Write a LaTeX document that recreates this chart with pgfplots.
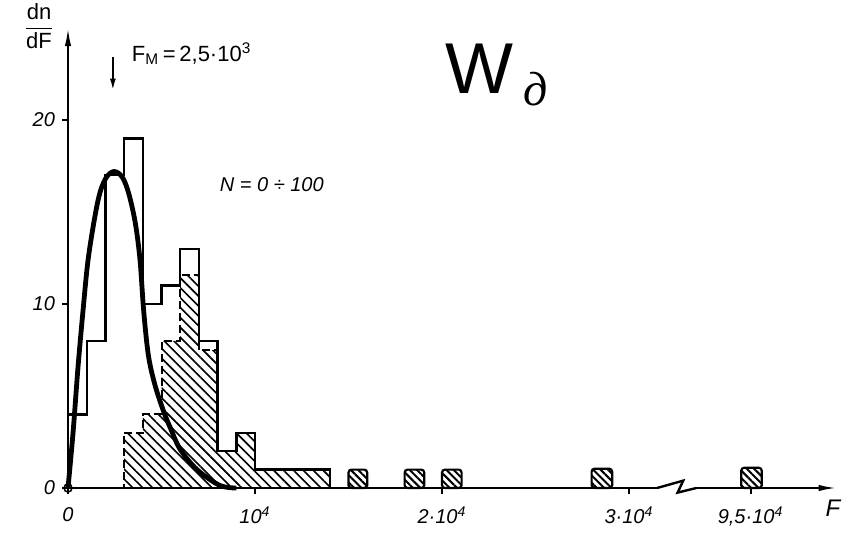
\documentclass[border=0pt]{standalone}
\usepackage{fontspec}
\setmainfont{Liberation Sans}
\newfontfamily\cyrserif{Liberation Serif}
\usepackage{pgfplots}
\pgfplotsset{compat=1.18}
\usetikzlibrary{patterns.meta,arrows.meta}

% outer histogram (all events), hatched sub-histogram, isolated hatched bins
\pgfplotstableread{
x   y
0   4
1   8
2   17
3   19
4   10
5   11
6   13
7   8
8   2
9   3
10  1
14  1
}\alltable

\pgfplotstableread{
x   y
3   3
4   4
5   8
6   11.6
7   7.5
8   2
9   3
10  1
14  1
}\hatchtable

\begin{document}
\begin{tikzpicture}
\useasboundingbox (-34pt,-32.5pt) rectangle (394.5pt,244pt);
\begin{axis}[
  at={(0,0)}, anchor=south west,
  x=9.35pt, y=9.2pt,
  xmin=0, xmax=41.1, ymin=0, ymax=25,
  axis lines=left,
  axis line style={line width=1pt, -{Latex[length=9pt,width=3.2pt]}},
  xtick={0,10,20,30,36.5},
  xticklabels={0, 10\textsuperscript{4}, 2·10\textsuperscript{4}, 3·10\textsuperscript{4}, {9,5·10\textsuperscript{4}}},
  ytick={0,10,20},
  tick style={line width=1pt, black},
  major tick length=3pt,
  tick align=outside,
  /pgf/number format/assume math mode=true,
  tick label style={font=\itshape\fontsize{10}{12}\selectfont},
  xticklabel style={yshift=-3pt},
  clip=false,
]
% hatched part, dashed outline
\addplot[const plot, draw=black, line width=1pt, dash pattern=on 4pt off 2pt,
  pattern={Lines[angle=-45,distance=3.5pt,line width=0.8pt]}]
  table[x=x,y=y] {\hatchtable} \closedcycle;

% isolated bins far out
\addplot[draw=black, line width=1.1pt, rounded corners=1.5pt,
  pattern={Lines[angle=-45,distance=2.6pt,line width=1pt]}]
  coordinates {(15,0) (15,1) (16,1) (16,0)} \closedcycle;
\addplot[draw=black, line width=1.1pt, rounded corners=1.5pt,
  pattern={Lines[angle=-45,distance=2.6pt,line width=1pt]}]
  coordinates {(18,0) (18,1) (19.05,1) (19.05,0)} \closedcycle;
\addplot[draw=black, line width=1.1pt, rounded corners=1.5pt,
  pattern={Lines[angle=-45,distance=2.6pt,line width=1pt]}]
  coordinates {(20,0) (20,1) (21.05,1) (21.05,0)} \closedcycle;
\addplot[draw=black, line width=1.1pt, rounded corners=1.5pt,
  pattern={Lines[angle=-45,distance=2.6pt,line width=1pt]}]
  coordinates {(28,0) (28,1.05) (29.1,1.05) (29.1,0)} \closedcycle;
\addplot[draw=black, line width=1.1pt, rounded corners=1.5pt,
  pattern={Lines[angle=-45,distance=2.6pt,line width=1pt]}]
  coordinates {(36,0) (36,1.1) (37.1,1.1) (37.1,0)} \closedcycle;

% outer histogram, solid
\addplot[const plot, draw=black, line width=1.2pt]
  table[x=x,y=y] {\alltable} -- (axis cs:14,0);

% fitted distribution
\addplot[line width=2.4pt, smooth, tension=0.55] coordinates {
  (0,0) (0.27,3) (0.53,6.5) (0.8,9.6) (1.1,12.6) (1.6,15.6) (2.0,16.8)
  (2.45,17.2) (2.9,16.9) (3.25,16.0) (3.6,14.4) (3.85,12.4) (4.05,9.6)
  (4.3,7.2) (4.65,5.6) (5.1,4.2) (5.5,3.2) (6.0,2.1) (6.9,1.0) (8.1,0.15) (9,0)
};
\addplot[only marks, mark=o, mark size=2pt, mark options={line width=0.8pt, fill=white}]
  coordinates {(0,0)};

% axis break between 3e4 and 9.5e4
\fill[white] (axis cs:31.5,-0.35) rectangle (axis cs:33.6,0.35);
\draw[line width=1.2pt] (axis cs:31.5,0) -- (axis cs:32.9,0.4) -- (axis cs:32.6,-0.25) -- (axis cs:33.6,0);

% labels
\node[font=\fontsize{11}{13}\selectfont] at (axis cs:-1.55,25.1)
  {$\displaystyle\frac{\mbox{dn}}{\mbox{dF}}$};
\node[font=\itshape\fontsize{12}{14}\selectfont] at (axis cs:40.9,-1.1) {F};
\node[anchor=west, font=\fontsize{11}{13}\selectfont, inner sep=0pt] at (axis cs:3.4,23.6)
  {F\textsubscript{M}\,=\,2,5·10\textsuperscript{3}};
\draw[line width=1pt, -{Latex[length=6pt,width=3pt]}] (axis cs:2.4,23.4) -- (axis cs:2.4,21.6);
\node[font=\itshape\fontsize{10}{12}\selectfont] at (axis cs:10.9,16.5) {N = 0 ÷ 100};
\node[font=\fontsize{36}{40}\selectfont] at (axis cs:22.0,22.8) {W};
\node[font=\cyrserif\itshape\fontsize{24}{28}\selectfont] at (axis cs:25.0,21.7) {д};
\end{axis}
\end{tikzpicture}
\end{document}
